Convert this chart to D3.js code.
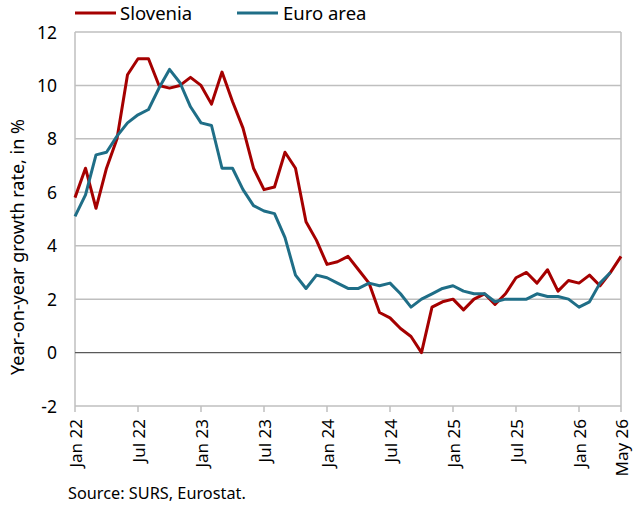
<!DOCTYPE html>
<html><head><meta charset="utf-8">
<script src="https://cdn.jsdelivr.net/npm/d3@7"></script>
<style>body{margin:0;background:#fff}svg{display:block}text{font-family:"Noto Sans",sans-serif;fill:#000}</style>
</head><body><svg id="c" width="634" height="508"></svg>
<script>
const months = ["Jan 22","Feb 22","Mar 22","Apr 22","May 22","Jun 22","Jul 22","Aug 22","Sep 22","Oct 22","Nov 22","Dec 22",
"Jan 23","Feb 23","Mar 23","Apr 23","May 23","Jun 23","Jul 23","Aug 23","Sep 23","Oct 23","Nov 23","Dec 23",
"Jan 24","Feb 24","Mar 24","Apr 24","May 24","Jun 24","Jul 24","Aug 24","Sep 24","Oct 24","Nov 24","Dec 24",
"Jan 25","Feb 25","Mar 25","Apr 25","May 25","Jun 25","Jul 25","Aug 25","Sep 25","Oct 25","Nov 25","Dec 25",
"Jan 26","Feb 26","Mar 26","Apr 26","May 26"];
const slovenia = [5.8,6.9,5.4,6.9,8.0,10.4,11.0,11.0,10.0,9.9,10.0,10.3,
10.0,9.3,10.5,9.4,8.4,6.9,6.1,6.2,7.5,6.9,4.9,4.2,
3.3,3.4,3.6,3.1,2.6,1.5,1.3,0.9,0.6,0.0,1.7,1.9,
2.0,1.6,2.0,2.2,1.8,2.2,2.8,3.0,2.6,3.1,2.3,2.7,
2.6,2.9,2.5,3.0,3.6];
const euroArea = [5.1,5.9,7.4,7.5,8.1,8.6,8.9,9.1,9.9,10.6,10.1,9.2,
8.6,8.5,6.9,6.9,6.1,5.5,5.3,5.2,4.3,2.9,2.4,2.9,
2.8,2.6,2.4,2.4,2.6,2.5,2.6,2.2,1.7,2.0,2.2,2.4,
2.5,2.3,2.2,2.2,1.9,2.0,2.0,2.0,2.2,2.1,2.1,2.0,
1.7,1.9,2.6,3.0];
const xTickLabels = ["Jan 22","Jul 22","Jan 23","Jul 23","Jan 24","Jul 24","Jan 25","Jul 25","Jan 26","May 26"];
const yTicks = [-2,0,2,4,6,8,10,12];
const seriesNames = ["Slovenia","Euro area"];
const colors = ["#a50000","#1f6e87"];

const svg = d3.select("#c");
const L=75, R=621, T=32, B=406;
const x = d3.scalePoint().domain(months).range([L,R]);
const y = d3.scaleLinear().domain([-2,12]).range([B,T]);

// grid
svg.append("g").selectAll("line").data(yTicks.filter(v=>v!==0 && v!==-2)).join("line")
  .attr("x1",L).attr("x2",R).attr("y1",d=>y(d)).attr("y2",d=>y(d))
  .attr("stroke","#bfbfbf").attr("stroke-width",1.5);
// frame
svg.append("line").attr("x1",L).attr("x2",L).attr("y1",T).attr("y2",B).attr("stroke","#bfbfbf").attr("stroke-width",1.5);
svg.append("line").attr("x1",R).attr("x2",R).attr("y1",T).attr("y2",B).attr("stroke","#bfbfbf").attr("stroke-width",1.5);
svg.append("line").attr("x1",L).attr("x2",R).attr("y1",B).attr("y2",B).attr("stroke","#bfbfbf").attr("stroke-width",1.5);
// zero line
svg.append("line").attr("x1",L).attr("x2",R).attr("y1",y(0)).attr("y2",y(0)).attr("stroke","#595959").attr("stroke-width",1.2);

// x ticks
const xg = svg.append("g");
xg.selectAll("line").data(xTickLabels).join("line")
  .attr("x1",d=>x(d)).attr("x2",d=>x(d)).attr("y1",B).attr("y2",B+6)
  .attr("stroke","#bfbfbf").attr("stroke-width",1.5);
xg.selectAll("text").data(xTickLabels).join("text")
  .attr("transform",d=>`translate(${x(d)+6.5},${B+13}) rotate(-90)`)
  .attr("text-anchor","end").attr("font-size",17).text(d=>d);

// y ticks labels
svg.append("g").selectAll("text").data(yTicks).join("text")
  .attr("x",57).attr("y",d=>y(d)+6.5).attr("text-anchor","end").attr("font-size",17.5)
  .text(d=>d);

// y title
svg.append("text").attr("transform",`translate(24,247) rotate(-90)`)
  .attr("text-anchor","middle").attr("font-size",18).text("Year-on-year growth rate, in %");

// lines
const line = d3.line().x((d,i)=>x(months[i])).y(d=>y(d));
[slovenia, euroArea].forEach((s,k)=>{
  svg.append("path").datum(s).attr("d",line).attr("fill","none")
    .attr("stroke",colors[k]).attr("stroke-width",3).attr("stroke-linejoin","round");
});

// legend
const lg = [{x:75,tx:120},{x:237,tx:283}];
seriesNames.forEach((n,k)=>{
  svg.append("line").attr("x1",lg[k].x).attr("x2",lg[k].x+41).attr("y1",13).attr("y2",13)
    .attr("stroke",colors[k]).attr("stroke-width",3);
  svg.append("text").attr("x",lg[k].tx).attr("y",20).attr("font-size",18.5).text(n);
});

// source
svg.append("text").attr("x",68).attr("y",499).attr("font-size",16.3).text("Source: SURS, Eurostat.");
</script></body></html>
